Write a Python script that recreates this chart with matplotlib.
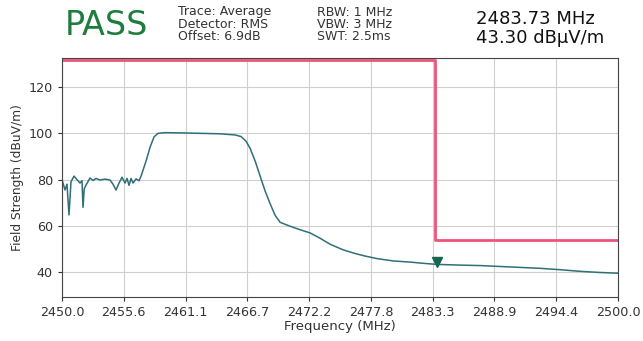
import numpy as np
import matplotlib
matplotlib.use('Agg')
import matplotlib.pyplot as plt

# 频谱数据 (MHz, dBuV/m)
freq = [2450.0, 2450.27, 2450.45, 2450.63, 2450.81, 2451.08, 2451.35, 2451.62, 2451.8, 2451.89,
        2452.0, 2452.16, 2452.52, 2452.8, 2453.06, 2453.42, 2453.87, 2454.32, 2454.59, 2454.86,
        2455.13, 2455.4, 2455.67, 2455.85, 2456.03, 2456.21, 2456.39, 2456.66, 2456.93, 2457.11,
        2457.56, 2457.92, 2458.28, 2458.64, 2459.27, 2460.62, 2462.42, 2464.22, 2465.57, 2466.11,
        2466.56, 2466.92, 2467.37, 2467.82, 2468.27, 2468.72, 2469.17, 2469.62, 2470.52, 2471.42,
        2472.32, 2473.22, 2474.12, 2475.29, 2476.37, 2477.27, 2478.35, 2479.79, 2481.32, 2482.67,
        2483.75, 2485.82, 2487.62, 2489.42, 2491.22, 2493.02, 2494.82, 2496.62, 2498.42, 2500.0]
level = [80.0, 75.5, 78.0, 64.7, 79.0, 81.5, 80.0, 78.5, 79.5, 68.0,
         76.0, 77.6, 80.7, 79.6, 80.5, 79.8, 80.2, 79.8, 78.0, 75.5,
         78.5, 81.0, 78.5, 80.5, 77.5, 80.5, 78.5, 80.3, 79.5, 81.5,
         88.0, 94.0, 98.5, 100.0, 100.3, 100.2, 100.0, 99.8, 99.3, 98.6,
         96.5, 93.5, 88.0, 81.5, 75.0, 69.5, 64.5, 61.5, 59.8, 58.3,
         56.9, 54.6, 52.0, 49.6, 48.0, 46.9, 45.8, 44.8, 44.3, 43.7,
         43.3, 43.0, 42.8, 42.4, 42.0, 41.6, 41.0, 40.3, 39.8, 39.5]

# 限值线
limit_freq = [2450.0, 2483.5, 2483.5, 2500.0]
limit_level = [131.7, 131.7, 54.0, 54.0]

# 标记点
marker_freq = 2483.73
marker_level = 43.30

xticks = np.linspace(2450.0, 2500.0, 10)
yticks = [40, 60, 80, 100, 120]

fig = plt.figure(figsize=(6.43, 3.41), dpi=100)
ax = fig.add_axes([0.0964, 0.129, 0.8647, 0.701])

ax.plot(limit_freq, limit_level, color='#f0537a', lw=2.0)
ax.plot(freq, level, color='#2f6f78', lw=1.1)
ax.plot(marker_freq, marker_level + 1.2, marker='v', color='#17664e', markersize=7)

ax.set_xlim(2450.0, 2500.0)
ax.set_ylim(29.2, 132.6)
ax.set_xticks(xticks)
ax.set_xticklabels(['%.1f' % t for t in xticks])
ax.set_yticks(yticks)
ax.grid(True, color='#d0d0d0', lw=0.8)
ax.tick_params(labelsize=9.2, colors='#333333', length=3)
for s in ax.spines.values():
    s.set_color('#444444')
ax.set_xlabel('Frequency (MHz)', fontsize=9.5, color='#333333', labelpad=1)
ax.set_ylabel('Field Strength (dBuV/m)', fontsize=8.8, color='#333333', labelpad=3)

# 顶部文字
fig.text(0.101, 0.925, 'PASS', fontsize=24, color='#1e7d3c', va='center', ha='left')
info1 = ['Trace: Average', 'Detector: RMS', 'Offset: 6.9dB']
info2 = ['RBW: 1 MHz', 'VBW: 3 MHz', 'SWT: 2.5ms']
for i in range(3):
    y = 1 - (12 + i * 12.4) / 341
    fig.text(178 / 643, y, info1[i], fontsize=9, color='#333333', va='center')
    fig.text(317 / 643, y, info2[i], fontsize=9, color='#333333', va='center')
fig.text(476 / 643, 1 - 19.5 / 341, '%.2f MHz' % marker_freq, fontsize=13, color='#111111', va='center')
fig.text(476 / 643, 1 - 38 / 341, '%.2f dBµV/m' % marker_level, fontsize=13, color='#111111', va='center')

fig.savefig('out.png', dpi=100)
